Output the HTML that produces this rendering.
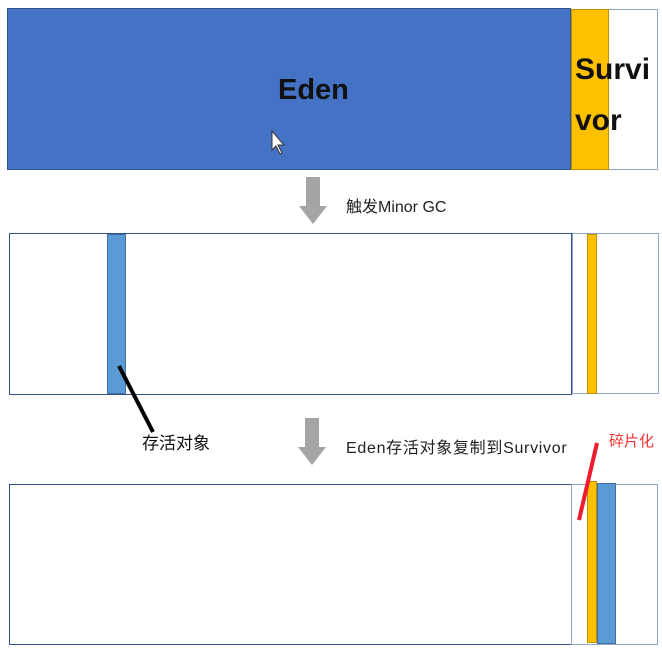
<!DOCTYPE html>
<html><head><meta charset="utf-8"><style>
body{margin:0;width:662px;height:648px;background:#fff;position:relative;overflow:hidden;font-family:"Liberation Sans","Noto Sans CJK SC",sans-serif}
div{position:absolute;box-sizing:border-box}
.t{white-space:nowrap}
</style></head><body>
<div style="left:7px;top:8px;width:564px;height:162px;background:#4472c4;border:1px solid #2f528f"></div>
<div class="t" style="left:278px;top:74px;font-size:29px;font-weight:bold;color:#111">Eden</div>
<div style="left:571px;top:9px;width:38px;height:161px;background:#ffc000;border:1px solid #c09000"></div>
<div style="left:609px;top:9px;width:49px;height:161px;border:1px solid #8ea9c8;border-left:none"></div>
<div class="t" style="left:575px;top:44px;font-size:30px;font-weight:bold;line-height:51px;color:#111">Survi<br>vor</div>
<div class="t" style="left:346px;top:193px;font-size:16px;color:#222">触发Minor GC</div>
<div style="left:9px;top:233px;width:563px;height:162px;border:1.5px solid #2f528f"></div>
<div style="left:107px;top:234px;width:19px;height:160px;background:#5b9bd5;border:1px solid #41719c"></div>
<div style="left:572px;top:233px;width:87px;height:161px;border:1px solid #8ea9c8"></div>
<div style="left:587px;top:234px;width:10px;height:160px;background:#ffc000;border:1px solid #c09000"></div>
<div class="t" style="left:142px;top:429px;font-size:17px;color:#111">存活对象</div>
<div class="t" style="left:346px;top:434px;font-size:16px;letter-spacing:0.7px;color:#222">Eden存活对象复制到Survivor</div>
<div class="t" style="left:609px;top:430px;font-size:15px;color:#ee3333">碎片化</div>
<div style="left:9px;top:484px;width:563px;height:161px;border:1.5px solid #2f528f"></div>
<div style="left:571px;top:484px;width:87px;height:161px;border:1px solid #8ea9c8"></div>
<div style="left:587px;top:481px;width:10px;height:162px;background:#ffc000;border:1px solid #c09000"></div>
<div style="left:597px;top:483px;width:19px;height:161px;background:#5b9bd5;border:1px solid #41719c"></div>
<svg style="position:absolute;left:0;top:0" width="662" height="648">
<path d="M272 131 L272 150 L276 146 L280 154 L282 153 L278 145 L284 145 Z" fill="#fff" stroke="#333" stroke-width="1"/>
<path d="M306 177 H320 V206 H327 L313 224 L299 206 H306 Z" fill="#a5a5a5"/>
<path d="M305 418 H319 V447 H326 L312 465 L298 447 H305 Z" fill="#a5a5a5"/>
<line x1="119" y1="366" x2="153" y2="432" stroke="#000" stroke-width="4"/>
<line x1="597" y1="443" x2="579" y2="520" stroke="#ee1c2e" stroke-width="4"/>
</svg>
</body></html>
